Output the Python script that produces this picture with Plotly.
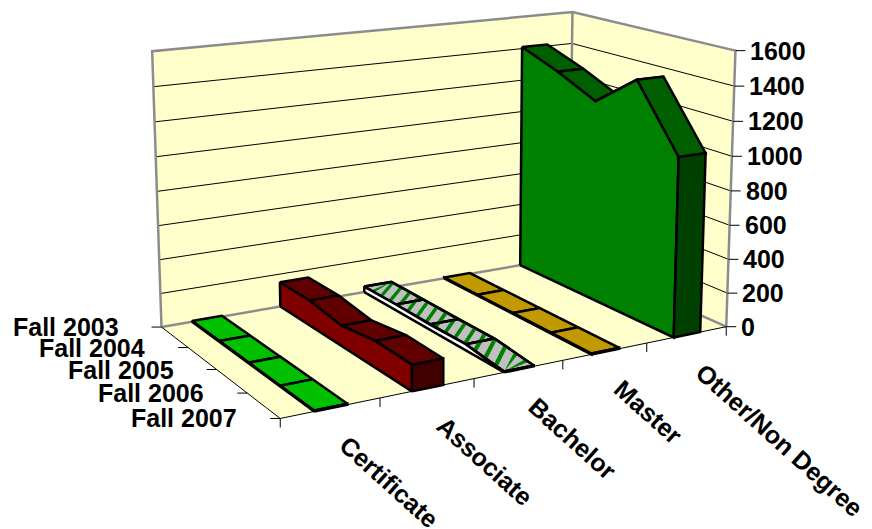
import numpy as np
import plotly.graph_objects as go

# Plotly's 3D scene has a fixed 45 degree field of view and cannot rotate tick labels,
# so this Excel-style 3D area chart goes through a projective map of (category, term, value)
# onto a hidden 2D plot. Everything below is derived from the value arrays.
categories = ["Certificate", "Associate", "Bachelor", "Master", "Other/Non Degree"]
terms = ["Fall 2003", "Fall 2004", "Fall 2005", "Fall 2006", "Fall 2007"]
certificate = [5, 5, 5, 5, 5]
associate = [150, 150, 118, 152, 145]
bachelor = [35, 35, 30, 35, 5]
master = [5, 5, 5, 5, 5]
other = [1410, 1320, 1210, 1405, 1040]
z_ticks = [0, 200, 400, 600, 800, 1000, 1200, 1400, 1600]
series = [certificate, associate, bachelor, master, other]
palette = [("#00a000", "#00c000", "#008000"), ("#800000", "#600000", "#400000"),
           ("#ffffff", "#c0c0c0", "#c0c0c0"), ("#a08000", "#c09a00", "#806000"),
           ("#008000", "#006000", "#004000")]

W, H = 872, 529
ZMAX = z_ticks[-1]
frame_3d = [(0, 0, 0), (0, 4, 0), (5, 4, 0), (5, 0, 0), (0, 0, ZMAX), (5, 0, ZMAX), (5, 4, ZMAX)]
frame_px = [(161, 325), (281, 420), (726, 326), (569, 258), (152, 52), (573, 12), (735, 50)]

A = []
for (x, y, z), (u, v) in zip(frame_3d, frame_px):
    z = z / ZMAX
    A.append([x, y, z, 1, 0, 0, 0, 0, -u * x, -u * y, -u * z, -u])
    A.append([0, 0, 0, 0, x, y, z, 1, -v * x, -v * y, -v * z, -v])
M = np.linalg.svd(np.array(A, float))[2][-1].reshape(3, 4)

def P(x, y, z):
    h = M @ np.array([x, y, z / ZMAX, 1.0])
    return float(h[0] / h[2]), float(h[1] / h[2])

fig = go.Figure()

def poly(points, fill, line="black", width=2.5):
    pts = [P(*q) for q in points]
    pts.append(pts[0])
    fig.add_trace(go.Scatter(x=[q[0] for q in pts], y=[q[1] for q in pts], mode="lines", fill="toself", fillcolor=fill,
                             line=dict(color=line, width=width), hoverinfo="skip"))

def path(points, color="black", width=2.5):
    pts = [P(*q) for q in points]
    fig.add_trace(go.Scatter(x=[q[0] for q in pts], y=[q[1] for q in pts], mode="lines",
                             line=dict(color=color, width=width), hoverinfo="skip"))

# walls and floor
wall = "#ffffcc"
poly([(0, 0, 0), (0, 0, ZMAX), (5, 0, ZMAX), (5, 0, 0)], wall, wall, 0)
poly([(5, 0, 0), (5, 0, ZMAX), (5, 4, ZMAX), (5, 4, 0)], wall, wall, 0)
poly([(0, 0, 0), (5, 0, 0), (5, 4, 0), (0, 4, 0)], wall, wall, 0)
for v in z_ticks[1:-1]:
    path([(0, 0, v), (5, 0, v), (5, 4, v)], "black", 1)
path([(0, 0, 0), (0, 0, ZMAX), (5, 0, ZMAX), (5, 4, ZMAX), (5, 4, 0)], "#8c8c8c", 2.5)
path([(5, 0, 0), (5, 0, ZMAX)], "#8c8c8c", 2.5)
path([(0, 0, 0), (5, 0, 0), (5, 4, 0)], "#8c8c8c", 2.5)
path([(0, 0, 0), (0, 4, 0), (5, 4, 0)], "black", 1)

half = 1 / 6
for i, vals in enumerate(series):
    side, top, cap = palette[i]
    lo, hi = i + .5 - half, i + .5 + half
    for j in range(4):
        poly([(lo, j, vals[j]), (hi, j, vals[j]), (hi, j + 1, vals[j + 1]), (lo, j + 1, vals[j + 1])], top)
    if i == 2:  # diagonal hatch across the top of the Bachelor ribbon
        period, wid, lean = 0.27, 0.09, 0.5
        for k in range(-2, 17):
            s0 = k * period
            pts = []
            for xx, ss in [(lo, s0 + lean), (lo, s0 + lean + wid), (hi, s0 + wid), (hi, s0)]:
                ss = min(max(ss, 0), 4)
                pts.append((xx, ss, float(np.interp(ss, range(5), vals))))
            poly(pts, "#008000", "#008000", 0)
        for j in range(5):
            path([(lo, j, vals[j]), (hi, j, vals[j])])
        path([(lo, j, vals[j]) for j in range(5)])
        path([(hi, j, vals[j]) for j in range(5)])
    poly([(lo, 0, 0)] + [(lo, j, vals[j]) for j in range(5)] + [(lo, 4, 0)], side)
    poly([(lo, 4, 0), (hi, 4, 0), (hi, 4, vals[4]), (lo, 4, vals[4])], cap)

notes = []
def tick(x, y, z, dx, dy):
    a = P(x, y, z)
    fig.add_trace(go.Scatter(x=[a[0], a[0] + dx], y=[a[1], a[1] + dy], mode="lines",
                             line=dict(color="black", width=1), hoverinfo="skip"))
def label(x, y, z, text, dx, dy, xanchor="center", yanchor="middle", angle=0):
    a = P(x, y, z)
    notes.append(dict(x=a[0] + dx, y=a[1] + dy, xref="x", yref="y", text=f"<b>{text}</b>", showarrow=False, xanchor=xanchor,
                      yanchor=yanchor, textangle=angle, font=dict(family="Liberation Sans", size=25, color="black")))
for v in z_ticks:
    tick(5, 4, v, 10, 0)
    label(5, 4, v, str(v), 13, 0, "left")
for j, t in enumerate(terms):
    tick(0, j, 0, -10, 0)
    label(0, j, 0, t, -41, 0, "right")
for i in range(6):
    tick(i, 4, 0, 0, 9)
for i, c in enumerate(categories):
    label(i + .5, 4, 0, c, 1, 20, "left", "top", 42)

fig.update_layout(
    width=W, height=H, margin=dict(l=0, r=0, t=0, b=0), paper_bgcolor="white", plot_bgcolor="white", showlegend=False,
    font=dict(family="Liberation Sans", size=25, color="black"), annotations=notes,
    xaxis=dict(range=[0, W], visible=False), yaxis=dict(range=[H, 0], visible=False),
)
fig.write_html("out.html", config=dict(displayModeBar=False), post_script="document.body.style.margin='0';")
